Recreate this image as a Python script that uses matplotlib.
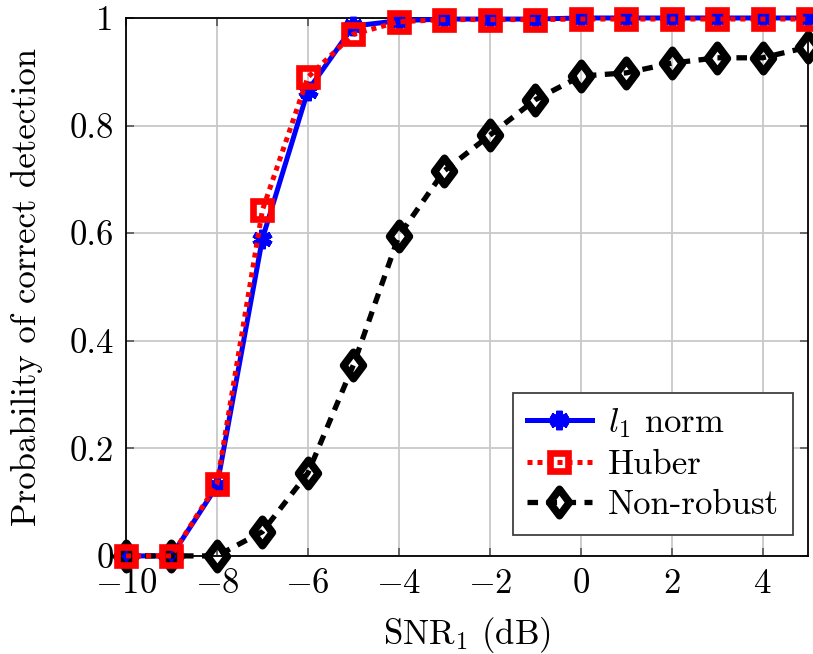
import matplotlib
matplotlib.use("Agg")
import matplotlib.pyplot as plt
from matplotlib.path import Path

plt.rcParams['font.family'] = 'serif'
plt.rcParams['font.serif'] = ['cmr10']
plt.rcParams['mathtext.fontset'] = 'cm'
plt.rcParams['axes.formatter.use_mathtext'] = True
plt.rcParams['axes.unicode_minus'] = True

snr = [-10, -9, -8, -7, -6, -5, -4, -3, -2, -1, 0, 1, 2, 3, 4, 5]
l1_norm = [0.0, 0.0, 0.13, 0.59, 0.865, 0.985, 0.995, 0.998, 0.998, 0.998, 1.0, 1.0, 1.0, 1.0, 1.0, 1.0]
huber = [0.0, 0.0, 0.134, 0.643, 0.89, 0.97, 0.993, 0.997, 0.997, 0.997, 0.998, 0.998, 0.998, 0.998, 0.998, 0.998]
non_robust = [0.0, 0.0, 0.0, 0.045, 0.154, 0.355, 0.595, 0.716, 0.782, 0.848, 0.892, 0.898, 0.916, 0.926, 0.926, 0.946]

xticks = [-10, -8, -6, -4, -2, 0, 2, 4]
yticks = [0, 0.2, 0.4, 0.6, 0.8, 1]
ytick_labels = ['0', '0.2', '0.4', '0.6', '0.8', '1']

FS = 25

diamond = Path([(0, 1), (0.75, 0), (0, -1), (-0.75, 0), (0, 1)],
               [Path.MOVETO, Path.LINETO, Path.LINETO, Path.LINETO, Path.CLOSEPOLY])

fig = plt.figure(figsize=(8.13, 6.54), dpi=100)
ax = fig.add_axes([0.155, 0.150, 0.839, 0.8225])

ax.plot(snr, l1_norm, color='blue', linestyle='-', linewidth=3.6,
        marker=(6, 2, 0), markersize=14, markeredgewidth=4.5, markeredgecolor='blue',
        label=r'$l_1$ norm', zorder=3, clip_on=False)
ax.plot(snr, huber, color='red', linestyle=(0, (1, 1)), linewidth=3.6,
        marker='s', markersize=13, markerfacecolor='none', markeredgewidth=4.8,
        markeredgecolor='red', label='Huber', zorder=4, clip_on=False)
ax.plot(snr, non_robust, color='black', linestyle=(0, (2, 1.6)), linewidth=3.8,
        marker=diamond, markersize=19, markerfacecolor='none', markeredgewidth=5.5,
        markeredgecolor='black', label='Non-robust', zorder=3, clip_on=False)

ax.set_xlim(-10, 5)
ax.set_ylim(0, 1)
ax.set_xticks(xticks)
ax.set_xticklabels([r'$%d$' % t if t >= 0 else r'$-%d$' % (-t) for t in xticks])
ax.set_yticks(yticks)
ax.set_yticklabels(ytick_labels)
ax.grid(True, color='#c8c8c8', linewidth=1.3)
ax.set_axisbelow(True)
ax.tick_params(direction='in', length=6, width=1.2, color='#555555', labelsize=FS,
               top=True, right=True)
ax.tick_params(axis='y', pad=9)
ax.tick_params(axis='x', pad=9)
for s in ax.spines.values():
    s.set_linewidth(1.3)
    s.set_color('black')

ax.set_xlabel(r'SNR$_1$ (dB)', fontsize=FS, labelpad=11)
ax.set_ylabel('Probability of correct detection', fontsize=FS, labelpad=19)

leg = ax.legend(loc='lower right', fontsize=FS, frameon=True, fancybox=False,
                edgecolor='#404040', framealpha=1, handlelength=1.9,
                handletextpad=0.45, borderpad=0.4, labelspacing=0.25,
                borderaxespad=0, bbox_to_anchor=(0.978, 0.039))
leg.get_frame().set_linewidth(1.3)

fig.savefig('out.png', dpi=100)
